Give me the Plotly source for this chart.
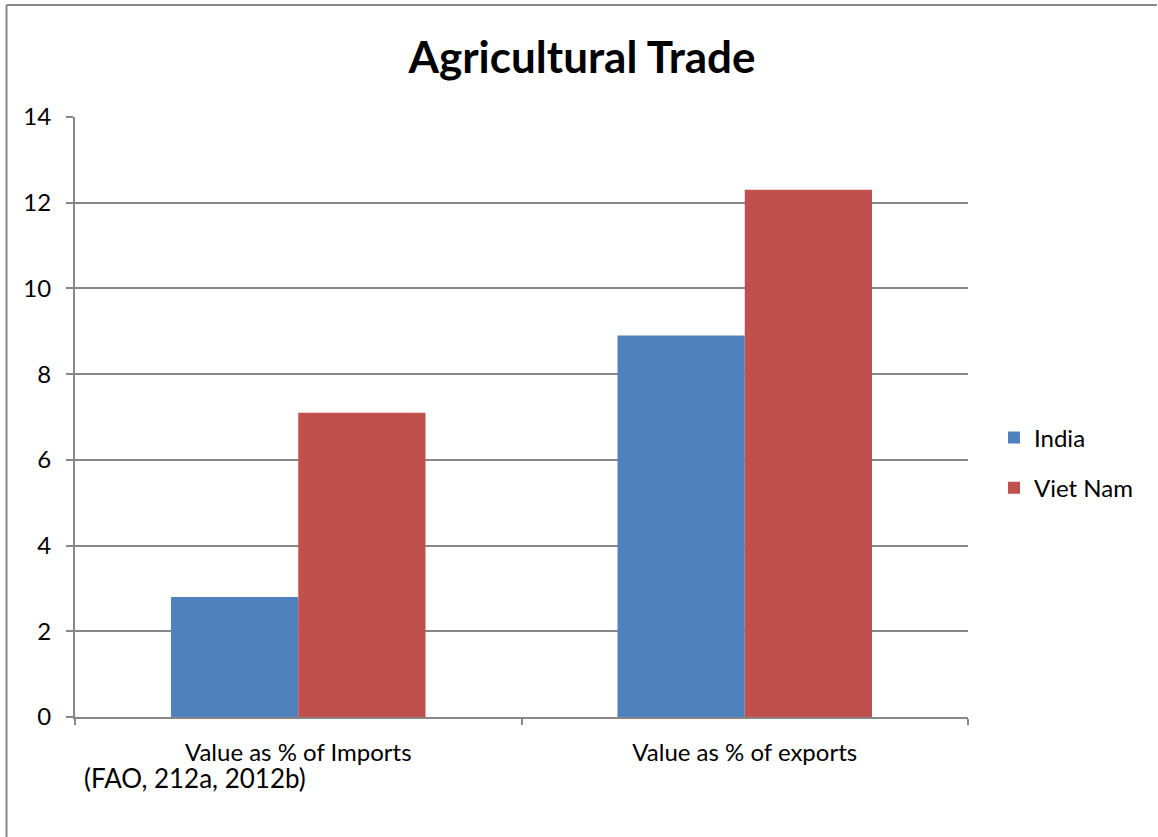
import plotly.graph_objects as go

categories = ["Value as % of Imports", "Value as % of exports"]
india = [2.8, 8.9]
viet_nam = [7.1, 12.3]
y_ticks = [0, 2, 4, 6, 8, 10, 12, 14]

W, H = 1158, 837
L, R, T, B = 75, 968, 117, 717
pw, ph = R - L, B - T
FONT = "Lato"
GRAY = "#878787"

fig = go.Figure()
fig.add_trace(go.Bar(name="India", x=categories, y=india, marker_color="#4F81BD",
                     marker_line_width=0, legendgroup="a"))
fig.add_trace(go.Bar(name="Viet Nam", x=categories, y=viet_nam, marker_color="#C0504D",
                     marker_line_width=0, legendgroup="b"))

def px_x(p):
    return (p - L) / pw

def px_y(p):
    return (B - p) / ph

fig.update_layout(
    width=W, height=H,
    margin=dict(l=L, r=W - R, t=T, b=H - B, pad=0),
    paper_bgcolor="white", plot_bgcolor="white",
    barmode="group", bargap=0.43, bargroupgap=0,
    font=dict(family=FONT, size=24, color="black"),
    title=dict(text="<b>Agricultural Trade</b>", x=582 / W, xref="container", xanchor="center",
               y=1 - 58 / H, yanchor="middle", font=dict(size=44, family=FONT)),
    xaxis=dict(showline=True, linecolor=GRAY, linewidth=2, ticks="outside",
               tickson="boundaries", ticklen=6, tickcolor=GRAY, tickwidth=2,
               showgrid=False, tickfont=dict(size=24), fixedrange=True,
               ticklabelstandoff=13),
    yaxis=dict(range=[0, 14], tickvals=y_ticks, showline=True, linecolor=GRAY,
               linewidth=2, ticks="outside", ticklen=7, tickcolor=GRAY, tickwidth=2,
               showgrid=True, gridcolor=GRAY, gridwidth=1.8, zeroline=False,
               tickfont=dict(size=24), fixedrange=True, ticklabelstandoff=10),
    legend=dict(x=px_x(994), xanchor="left", y=px_y(463), yanchor="middle",
                font=dict(size=24), itemwidth=30, tracegroupgap=16,
                traceorder="grouped", bgcolor="rgba(0,0,0,0)"),
    showlegend=True,
)

fig.add_annotation(text="(FAO, 212a, 2012b)", xref="paper", yref="paper",
                   x=px_x(82), y=px_y(778), xanchor="left", yanchor="middle",
                   showarrow=False, font=dict(size=26, family=FONT))

# outer chart border (left and top visible)
fig.add_shape(type="line", xref="paper", yref="paper",
              x0=px_x(6.5), x1=px_x(6.5), y0=px_y(5), y1=px_y(900),
              line=dict(color=GRAY, width=2))
fig.add_shape(type="line", xref="paper", yref="paper",
              x0=px_x(6.5), x1=px_x(1157), y0=px_y(5), y1=px_y(5),
              line=dict(color=GRAY, width=2))

fig.write_html("out.html", config={"displayModeBar": False},
               post_script="document.body.style.margin='0';document.body.style.overflow='hidden';")
